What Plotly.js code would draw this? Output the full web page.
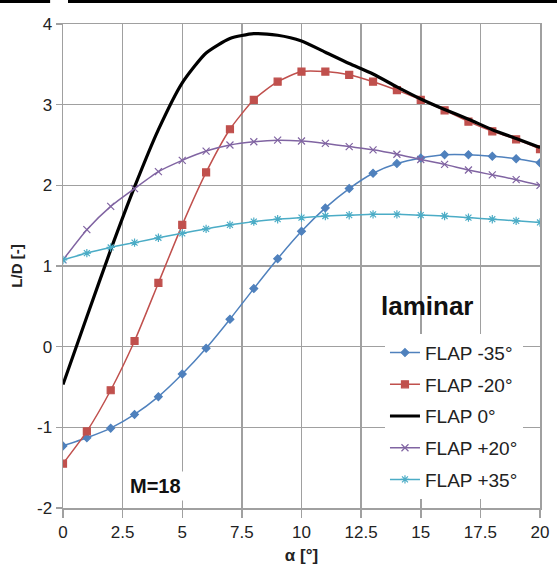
<!DOCTYPE html>
<html>
<head>
<meta charset="utf-8">
<script src="https://cdn.plot.ly/plotly-3.0.1.min.js"></script>
<style>html,body{margin:0;padding:0;background:#fff;}#chart{width:557px;height:573px;}</style>
</head>
<body>
<div id="chart"></div>
<script>
const alpha = [0,1,2,3,4,5,6,7,8,9,10,11,12,13,14,15,16,17,18,19,20];
const flapM35 = [-1.23,-1.13,-1.01,-0.84,-0.62,-0.34,-0.02,0.34,0.72,1.09,1.43,1.72,1.96,2.15,2.27,2.34,2.38,2.38,2.36,2.33,2.28];
const flapM20 = [-1.45,-1.05,-0.54,0.07,0.79,1.51,2.16,2.695,3.06,3.285,3.41,3.41,3.37,3.285,3.18,3.06,2.93,2.79,2.67,2.57,2.45];
const flap0   = [-0.47,0.37,1.2,1.98,2.69,3.27,3.64,3.82,3.88,3.86,3.79,3.65,3.51,3.38,3.22,3.07,2.94,2.82,2.69,2.58,2.47];
const flapP20 = [1.075,1.45,1.74,1.96,2.17,2.31,2.425,2.50,2.54,2.56,2.55,2.52,2.48,2.44,2.385,2.32,2.26,2.19,2.13,2.07,2.0];
const flapP35 = [1.075,1.16,1.23,1.29,1.35,1.405,1.46,1.51,1.55,1.58,1.60,1.62,1.63,1.64,1.64,1.63,1.62,1.60,1.58,1.56,1.54];
const names = ['FLAP -35°','FLAP -20°','FLAP 0°','FLAP +20°','FLAP +35°'];
const xTicks = [0,2.5,5,7.5,10,12.5,15,17.5,20];
const xTickText = ['0','2.5','5','7.5','10','12.5','15','17.5','20'];
const yTicks = [-2,-1,0,1,2,3,4];
const yTickText = ['-2','-1','0','1','2','3','4'];

const FONT = 'Liberation Sans, Arial, sans-serif';
function tr(y, name, color, sym, size, width, mode, grp){
  return {x: alpha, y: y, name: name, type: 'scatter', mode: mode,
    line: {color: color, width: width, shape: 'spline', smoothing: 0.6},
    marker: {symbol: sym, size: size, color: color, line: {color: color, width: 1.2}},
    legendgroup: grp, hoverinfo: 'skip'};
}
const data = [
  tr(flapM35, names[0], '#4F81BD', 'diamond', 6, 1.5, 'lines+markers', 'a'),
  tr(flapM20, names[1], '#C0504D', 'square', 7, 1.5, 'lines+markers', 'b'),
  tr(flap0,   names[2], '#000000', 'circle', 1, 3.2, 'lines', 'c'),
  tr(flapP20, names[3], '#8064A2', 'x-thin-open', 7, 1.5, 'lines+markers', 'd'),
  tr(flapP35, names[4], '#4BACC6', 'asterisk-open', 7, 1.5, 'lines+markers', 'e')
];
const layout = {
  width: 557, height: 573,
  margin: {l: 63, r: 17, t: 24, b: 65},
  paper_bgcolor: '#fff', plot_bgcolor: '#fff',
  font: {family: FONT, color: '#222', size: 16},
  showlegend: true,
  legend: {x: 0.675, y: 0.36, xanchor: 'left', yanchor: 'top', bgcolor: '#fff',
    font: {family: FONT, size: 19, color: '#222'}, tracegroupgap: 4, traceorder: 'grouped',
    itemwidth: 30},
  xaxis: {range: [0, 20], tickvals: xTicks, ticktext: xTickText, showgrid: true,
    gridcolor: '#a0a0a0', gridwidth: 1.5, showline: true, linecolor: '#a0a0a0', linewidth: 1.5,
    mirror: true, ticks: 'outside', ticklen: 8, tickcolor: '#a0a0a0', tickwidth: 1.5,
    zeroline: false, tickfont: {size: 17, color: '#222'},
    title: {text: '<b>α [°]</b>', font: {size: 17, color: '#222'}, standoff: 8}},
  yaxis: {range: [-2, 4], tickvals: yTicks, ticktext: yTickText, showgrid: true,
    gridcolor: '#a0a0a0', gridwidth: 1.5, showline: true, linecolor: '#a0a0a0', linewidth: 1.5,
    mirror: true, ticks: 'outside', ticklen: 6, tickcolor: '#a0a0a0', tickwidth: 1.5,
    zeroline: false, tickfont: {size: 17, color: '#222'},
    title: {text: '<b>L/D [-]</b>', font: {size: 15, color: '#222'}, standoff: 10}},
  annotations: [
    {xref: 'paper', yref: 'paper', x: 0.765, y: 0.418, text: '<b>laminar</b>', showarrow: false,
      font: {size: 26, color: '#111', family: FONT}, xanchor: 'center', yanchor: 'middle'},
    {xref: 'paper', yref: 'paper', x: 0.193, y: 0.045, text: '<b>M=18</b>', showarrow: false,
      font: {size: 20, color: '#111', family: FONT}, bgcolor: '#fff', borderpad: 3,
      xanchor: 'center', yanchor: 'middle'}
  ],
  shapes: [
    {type: 'rect', xref: 'paper', yref: 'paper', x0: -0.135, x1: -0.027, y0: 1.0434, y1: 1.05,
      fillcolor: '#000', line: {width: 0}},
    {type: 'rect', xref: 'paper', yref: 'paper', x0: 0.0105, x1: 1.04, y0: 1.0434, y1: 1.05,
      fillcolor: '#000', line: {width: 0}}
  ]
};
Plotly.newPlot('chart', data, layout, {displayModeBar: false, staticPlot: true});
</script>
</body>
</html>
